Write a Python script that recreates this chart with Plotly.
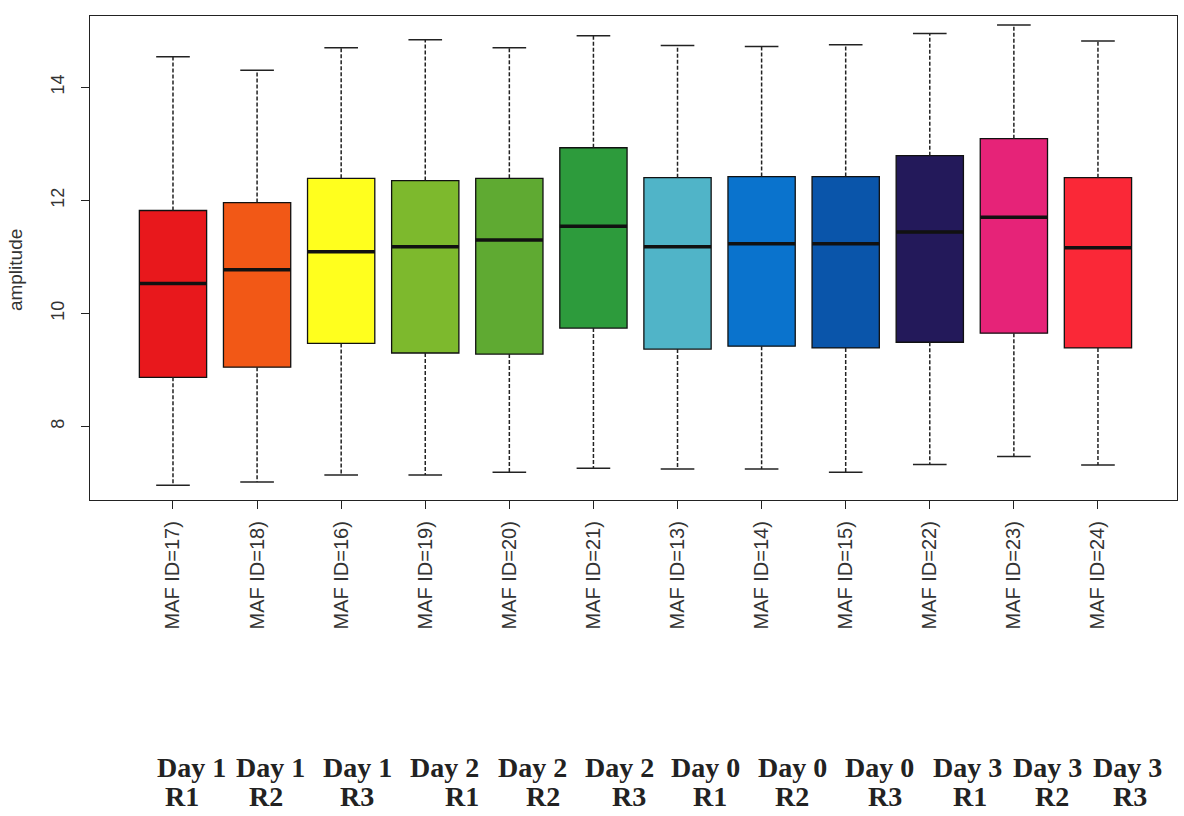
import plotly.graph_objects as go

# ---- data ----
labels = ["MAF ID=17)", "MAF ID=18)", "MAF ID=16)", "MAF ID=19)", "MAF ID=20)", "MAF ID=21)",
          "MAF ID=13)", "MAF ID=14)", "MAF ID=15)", "MAF ID=22)", "MAF ID=23)", "MAF ID=24)"]
day_labels = ["Day 1", "Day 1", "Day 1", "Day 2", "Day 2", "Day 2",
              "Day 0", "Day 0", "Day 0", "Day 3", "Day 3", "Day 3"]
rep_labels = ["R1", "R2", "R3", "R1", "R2", "R3", "R1", "R2", "R3", "R1", "R2", "R3"]
lower = [6.96, 7.02, 7.14, 7.14, 7.19, 7.26, 7.25, 7.25, 7.19, 7.33, 7.47, 7.32]
q1 = [8.87, 9.05, 9.47, 9.30, 9.28, 9.74, 9.37, 9.42, 9.39, 9.49, 9.65, 9.39]
median = [10.53, 10.77, 11.09, 11.18, 11.30, 11.54, 11.18, 11.23, 11.23, 11.44, 11.70, 11.16]
q3 = [11.82, 11.96, 12.39, 12.35, 12.39, 12.93, 12.40, 12.42, 12.42, 12.79, 13.09, 12.40]
upper = [14.54, 14.30, 14.70, 14.84, 14.70, 14.91, 14.74, 14.72, 14.75, 14.95, 15.10, 14.82]

# ---- styles ----
colors = ["#E8181C", "#F25816", "#FFFF1E", "#7DB92D", "#5FAA32", "#2D9B3C",
          "#50B4C8", "#0A73CD", "#0A55AA", "#23195A", "#E62378", "#FA2837"]
day_shift = [19, 13, 16, 19, 23, 26, 28, 31, 34, 38, 34, 30]
rep_shift = [9, 9, 16, 37, 34, 36, 32, 30, 39, 40, 38, 32]

n = len(labels)
pos = list(range(n))
box_w = 0.8
cap_w = 0.4

fig = go.Figure()
for i in pos:
    fig.add_trace(go.Box(
        x=[i], q1=[q1[i]], median=[median[i]], q3=[q3[i]],
        lowerfence=[q1[i]], upperfence=[q3[i]],
        width=box_w, whiskerwidth=0,
        fillcolor=colors[i], line=dict(color="#111111", width=1.3),
        boxpoints=False, showlegend=False, hoverinfo="skip"))

wx, wy, cx, cy, mx, my = [], [], [], [], [], []
for i in pos:
    wx += [i, i, None, i, i, None]
    wy += [q3[i], upper[i], None, q1[i], lower[i], None]
    cx += [i - cap_w / 2, i + cap_w / 2, None, i - cap_w / 2, i + cap_w / 2, None]
    cy += [upper[i], upper[i], None, lower[i], lower[i], None]
    mx += [i - box_w / 2, i + box_w / 2, None]
    my += [median[i], median[i], None]

fig.add_trace(go.Scatter(x=wx, y=wy, mode="lines", showlegend=False, hoverinfo="skip",
                         line=dict(color="#222222", width=1.5, dash="4px,2px")))
fig.add_trace(go.Scatter(x=cx, y=cy, mode="lines", showlegend=False, hoverinfo="skip",
                         line=dict(color="#222222", width=1.5)))
fig.add_trace(go.Scatter(x=mx, y=my, mode="lines", showlegend=False, hoverinfo="skip",
                         line=dict(color="#111111", width=3.5)))

annotations = []
for i in pos:
    annotations.append(dict(x=i, y=-0.552, xref="x", yref="paper", text="<b>%s</b>" % day_labels[i],
                            showarrow=False, xshift=day_shift[i], yanchor="middle",
                            font=dict(family="Liberation Serif", size=28, color="#222222")))
    annotations.append(dict(x=i, y=-0.612, xref="x", yref="paper", text="<b>%s</b>" % rep_labels[i],
                            showarrow=False, xshift=rep_shift[i], yanchor="middle",
                            font=dict(family="Liberation Serif", size=28, color="#222222")))
annotations.append(dict(x=-0.069, y=0.475, xref="paper", yref="paper", text="amplitude",
                        textangle=-90, showarrow=False, xanchor="center", yanchor="middle",
                        font=dict(family="Liberation Sans", size=19, color="#333333")))

fig.update_layout(
    width=1184, height=816,
    margin=dict(l=90, r=7, t=16, b=316),
    paper_bgcolor="white", plot_bgcolor="white",
    font=dict(family="Liberation Sans", color="#333333"),
    annotations=annotations,
    xaxis=dict(range=[-0.987, 11.94], tickmode="array", tickvals=pos, ticktext=labels,
               tickangle=-90, ticks="outside", ticklen=8, tickcolor="#222222",
               tickfont=dict(size=20, color="#333333"), ticklabelstandoff=4,
               showline=True, mirror=True, linecolor="#222222", linewidth=1.3,
               showgrid=False, zeroline=False),
    yaxis=dict(range=[6.70, 15.26], tickvals=[8, 10, 12, 14], tickangle=-90,
               ticks="outside", ticklen=8, tickcolor="#222222",
               tickfont=dict(size=18, color="#333333"), ticklabelstandoff=10,
               showline=True, mirror=True, linecolor="#222222", linewidth=1.3,
               showgrid=False, zeroline=False),
)

fig.write_html("out.html")
